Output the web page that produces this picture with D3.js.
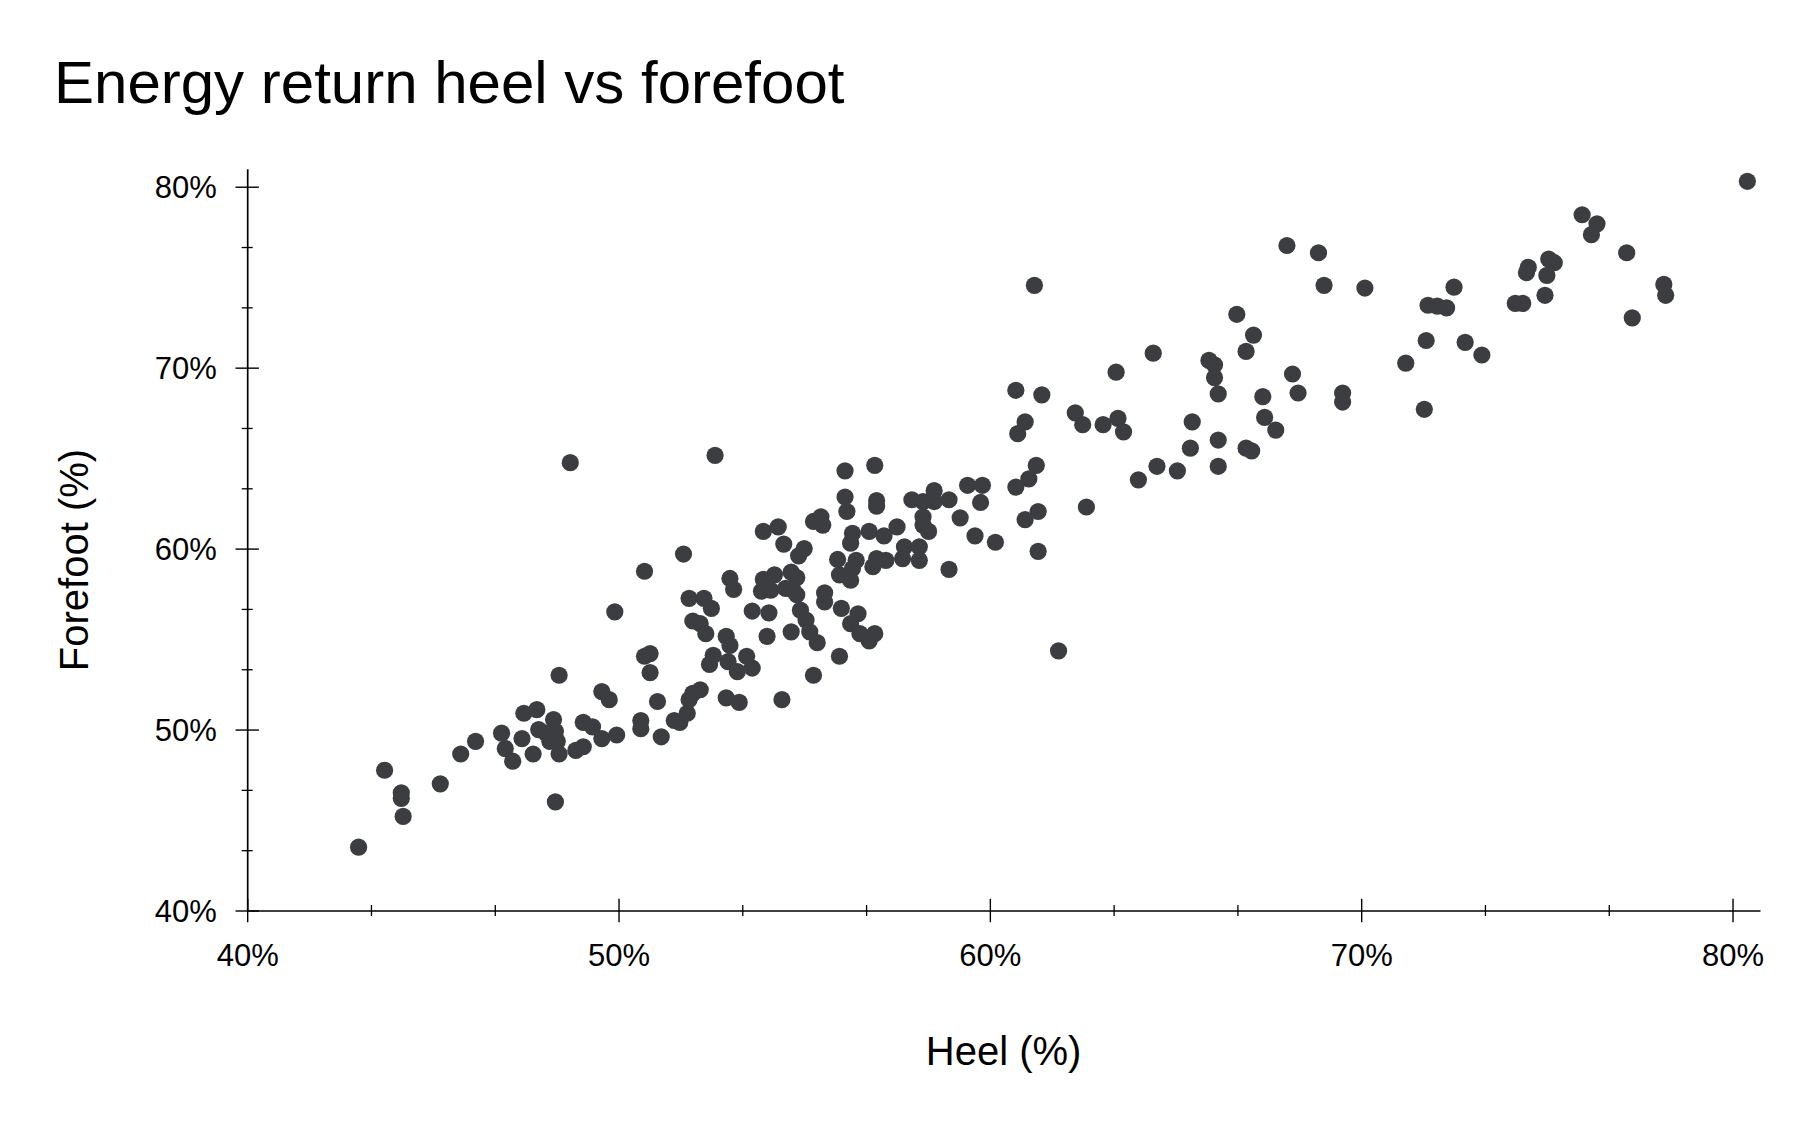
<!DOCTYPE html>
<html>
<head>
<meta charset="utf-8">
<script src="https://cdn.jsdelivr.net/npm/d3@7"></script>
<style>
  html, body { margin: 0; padding: 0; background: #ffffff; }
  svg { display: block; font-family: "Liberation Sans", Arial, Helvetica, sans-serif; }
</style>
</head>
<body>
<svg id="chart" width="1816" height="1124"></svg>
<script>
// ---- data ----
const heelPct = [
  43.0,43.7,44.15,44.15,44.2,45.2,45.75,46.15,46.85,46.95,
  47.15,47.4,47.45,47.8,47.7,47.85,48.05,48.15,48.25,48.3,
  48.35,48.4,48.3,48.4,48.7,49.9,50.7,50.7,50.85,50.85,
  49.55,49.75,51.05,50.6,50.6,51.15,51.5,49.05,49.3,49.55,
  49.95,48.85,49.05,51.75,51.65,51.85,51.9,52.0,52.2,52.9,
  53.25,54.4,55.25,55.95,52.9,53.0,52.55,52.45,52.95,53.2,
  53.45,53.6,51.9,52.3,52.5,52.0,52.2,52.35,53.0,53.1,
  53.6,54.05,54.0,53.9,53.85,54.2,54.1,54.65,54.8,54.5,
  54.7,54.8,54.9,55.05,55.15,55.35,54.65,54.85,55.0,53.9,
  54.3,54.45,55.25,55.45,55.5,56.1,56.15,56.95,56.95,57.9,
  56.3,56.75,57.15,57.5,56.25,55.9,55.95,56.25,56.3,56.4,
  56.85,56.95,57.2,57.7,58.1,57.65,58.1,55.55,55.55,56.0,
  56.25,56.45,56.5,56.75,56.9,56.1,56.9,61.4,60.7,60.95,
  60.75,62.3,62.5,63.05,63.45,63.6,64.5,64.0,65.05,62.6,
  61.25,61.05,60.7,61.3,60.95,61.3,61.85,58.2,58.5,58.5,
  58.9,59.4,59.8,59.75,58.2,58.2,58.35,59.2,59.6,60.15,
  58.9,61.2,52.6,68.0,68.85,69.0,70.1,71.8,72.05,72.3,
  71.75,71.2,71.7,66.65,67.1,66.9,64.4,63.4,65.9,66.05,
  66.05,66.15,68.15,68.3,67.35,69.5,69.5,67.4,67.7,65.45,
  65.4,66.15,66.9,67.05,66.15,80.4,75.95,76.35,76.2,77.15,
  74.5,74.45,75.05,75.2,75.0,74.95,74.15,74.35,78.15,78.2,
  77.3,72.5,72.8,73.25
];
const forefootPct = [
  43.5,47.75,46.5,46.2,45.2,47.0,48.65,49.35,49.8,48.95,
  48.25,49.5,50.9,51.1,48.65,50.0,49.8,49.35,50.55,49.9,
  49.35,48.65,46.0,53.0,64.75,56.5,58.75,54.05,54.2,53.15,
  52.1,51.65,51.55,50.5,50.05,49.6,50.5,50.4,50.15,49.5,
  49.7,48.85,49.05,59.7,50.4,50.9,51.65,52.0,52.2,51.75,
  51.5,51.65,53.0,54.05,55.15,54.65,54.1,53.6,53.75,53.2,
  54.05,53.4,57.25,57.25,56.7,56.0,55.85,55.3,58.35,57.75,
  56.55,56.45,55.15,58.3,57.65,58.55,57.7,58.7,58.4,57.8,
  57.7,57.45,56.6,56.05,55.4,54.8,55.4,59.6,60.0,60.95,
  61.2,60.25,61.5,61.75,61.3,62.85,62.05,62.65,62.35,62.7,
  60.85,60.95,60.7,61.2,60.3,59.4,58.55,58.25,58.9,59.35,
  59.0,59.45,59.35,60.1,60.1,59.45,59.35,57.55,57.05,56.7,
  55.85,56.4,55.3,54.9,55.3,64.3,64.6,68.5,68.75,67.0,
  66.35,67.5,66.85,66.85,67.2,66.45,64.55,63.8,64.3,62.3,
  64.6,63.85,63.4,62.05,61.6,59.85,54.35,62.6,63.2,62.6,
  62.7,63.5,63.5,62.55,61.75,61.3,60.95,61.7,60.7,60.35,
  58.85,74.55,65.15,76.75,76.35,74.55,74.4,73.45,73.4,73.3,
  71.5,70.25,67.7,72.95,71.8,70.9,70.8,69.75,70.4,70.15,
  69.45,68.55,69.65,68.6,68.4,68.6,68.1,67.25,66.55,67.0,
  65.55,66.0,65.55,65.4,64.55,80.3,78.45,77.95,77.35,76.35,
  75.55,75.25,76.0,75.8,75.1,74.0,73.55,73.55,74.6,74.0,
  72.75,74.45,71.4,70.7
];
const majorTicks = [40, 50, 60, 70, 80];
const tickLabels = ["40%", "50%", "60%", "70%", "80%"];
const minorTicks = [43.333, 46.667, 53.333, 56.667, 63.333, 66.667, 73.333, 76.667];
const titleText = "Energy return heel vs forefoot";
const xTitle = "Heel (%)";
const yTitle = "Forefoot (%)";

// ---- layout ----
const svg = d3.select("#chart");
const plotLeft = 247.2, plotRight = 1760, plotTop = 168.8, plotBottom = 910.5;
const x = d3.scaleLinear().domain([40, 80.74]).range([plotLeft, plotRight]);
const y = d3.scaleLinear().domain([40, 80.99]).range([plotBottom, plotTop]);

const data = heelPct.map((h, i) => ({ h, f: forefootPct[i] }));
const FONT = "'Liberation Sans', Arial, Helvetica, sans-serif";

// title
svg.append("text")
  .attr("x", 54).attr("y", 103)
  .attr("font-size", 60).attr("fill", "#000")
  .text(titleText);

// points
svg.append("g").selectAll("circle").data(data).join("circle")
  .attr("cx", d => x(d.h)).attr("cy", d => y(d.f))
  .attr("r", 8.6).attr("fill", "#3b3d41");

// x axis
const gx = svg.append("g").attr("transform", `translate(0,${plotBottom})`);
gx.call(d3.axisBottom(x).tickValues(majorTicks).tickSizeOuter(0).tickSizeInner(11.7)
  .tickPadding(0).tickFormat((d, i) => tickLabels[i]));
gx.select(".domain").attr("stroke", "#000").attr("stroke-width", 1.7);
gx.selectAll(".tick line").attr("y1", -11.7).attr("y2", 11.7).attr("stroke", "#000").attr("stroke-width", 1.4);
gx.selectAll(".tick text").attr("y", 55.5).attr("dy", 0).attr("font-size", 31)
  .attr("font-family", FONT).attr("fill", "#000");
const gxm = svg.append("g").attr("transform", `translate(0,${plotBottom})`);
gxm.call(d3.axisBottom(x).tickValues(minorTicks).tickSizeOuter(0).tickSizeInner(5.5).tickFormat(""));
gxm.select(".domain").remove();
gxm.selectAll(".tick line").attr("y1", -5.5).attr("y2", 5.5).attr("stroke", "#000").attr("stroke-width", 1.3);

// y axis
const gy = svg.append("g").attr("transform", `translate(${plotLeft},0)`);
gy.call(d3.axisLeft(y).tickValues(majorTicks).tickSizeOuter(0).tickSizeInner(11.7)
  .tickPadding(0).tickFormat((d, i) => tickLabels[i]));
gy.select(".domain").attr("stroke", "#000").attr("stroke-width", 1.7);
gy.selectAll(".tick line").attr("x1", -11.7).attr("x2", 11.7).attr("stroke", "#000").attr("stroke-width", 1.4);
gy.selectAll(".tick text").attr("x", -30.5).attr("dy", 11).attr("font-size", 31)
  .attr("font-family", FONT).attr("fill", "#000");
const gym = svg.append("g").attr("transform", `translate(${plotLeft},0)`);
gym.call(d3.axisLeft(y).tickValues(minorTicks).tickSizeOuter(0).tickSizeInner(5.5).tickFormat(""));
gym.select(".domain").remove();
gym.selectAll(".tick line").attr("x1", -5.5).attr("x2", 5.5).attr("stroke", "#000").attr("stroke-width", 1.3);

// axis titles
svg.append("text")
  .attr("x", (plotLeft + plotRight) / 2).attr("y", 1065)
  .attr("text-anchor", "middle").attr("font-size", 40).attr("fill", "#000")
  .text(xTitle);
svg.append("text")
  .attr("transform", "translate(88,560) rotate(-90)")
  .attr("text-anchor", "middle").attr("font-size", 40).attr("fill", "#000")
  .text(yTitle);
</script>
</body>
</html>
